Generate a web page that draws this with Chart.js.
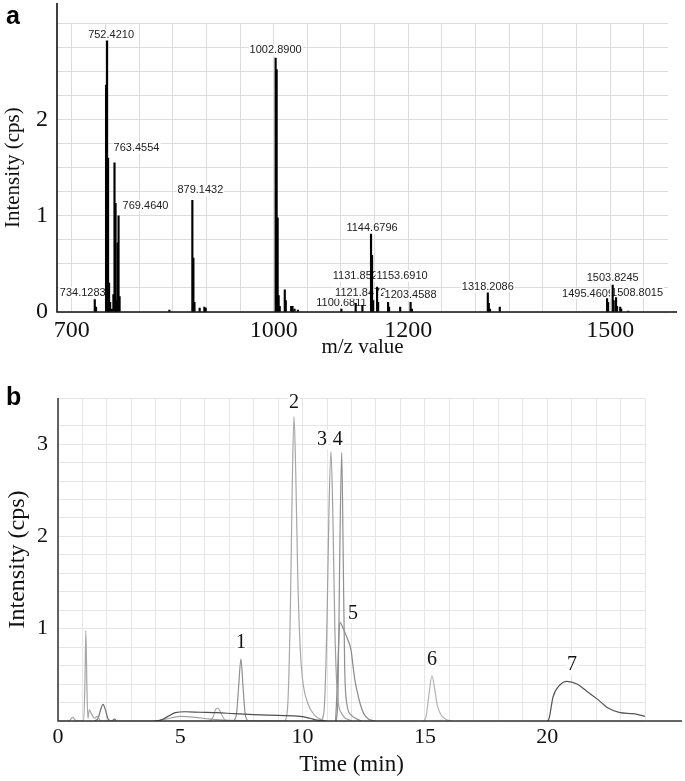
<!DOCTYPE html>
<html>
<head>
<meta charset="utf-8">
<script src="https://cdn.jsdelivr.net/npm/chart.js@4.4.0/dist/chart.umd.min.js"></script>
<style>
  body { margin: 0; background: #fff; }
  #wrap { position: relative; width: 685px; height: 781px; }
  #chartA { position: absolute; left: 0; top: 0; }
  #chartB { position: absolute; left: 0; top: 360px; }
</style>
</head>
<body>
<div id="wrap">
  <canvas id="chartA" width="685" height="360"></canvas>
  <canvas id="chartB" width="685" height="421"></canvas>
</div>
<script>
// ---- panel a: mass spectrum ----
const mzValues = [
  734.1283, 736.0, 750.9, 752.4210, 753.9, 755.4, 757.0, 759.5, 761.8, 763.4554,
  765.0, 766.5, 768.0, 769.4640, 771.0, 845.0, 879.1432, 880.7, 882.3, 890.0,
  897.0, 899.0, 1002.8900, 1004.4, 1005.9, 1007.4, 1009.0, 1016.5, 1018.0, 1026.0,
  1028.0, 1031.0, 1036.0, 1100.6811, 1121.8472, 1131.8522, 1144.6796, 1146.2, 1147.7, 1153.6910,
  1155.2, 1170.0, 1171.5, 1188.0, 1203.4588, 1205.5, 1318.2086, 1319.7, 1321.5, 1336.0,
  1495.4609, 1497.0, 1503.8245, 1505.3, 1508.8015, 1510.3, 1515.0, 1516.5, 1527.0
];
const mzIntensity = [
  0.13, 0.05, 2.36, 2.82, 1.60, 0.30, 0.10, 0.03, 0.18, 1.55,
  1.13, 0.12, 0.72, 1.00, 0.16, 0.02, 1.16, 0.56, 0.10, 0.04,
  0.05, 0.04, 2.64, 2.52, 0.98, 0.17, 0.06, 0.23, 0.12, 0.06,
  0.06, 0.03, 0.02, 0.03, 0.09, 0.07, 0.81, 0.59, 0.12, 0.26,
  0.10, 0.10, 0.05, 0.05, 0.10, 0.03, 0.20, 0.09, 0.03, 0.05,
  0.14, 0.10, 0.28, 0.12, 0.15, 0.06, 0.05, 0.03, 0.01
];
const mzLabels = [
  '734.1283', '752.4210', '763.4554', '769.4640', '879.1432', '1002.8900',
  '1100.6811', '1121.8472', '1131.8522', '1144.6796', '1153.6910', '1203.4588',
  '1318.2086', '1495.4609', '1503.8245', '1508.8015'
];
const mzTickLabels = [700, 1000, 1200, 1500];
const intensityTicksA = [0, 1, 2];

// label placement (px shift right, px above peak top)
const labelLayoutA = [
  [-12, 7], [4, 6], [22, 15], [27, 10], [8, 10], [0, 8],
  [0, 6], [5, 10], [-4, 29], [1, 6], [25, 11], [0, 7],
  [0, 6], [-19, 5], [0, 7], [21, 5]
];

// ---- panel b: chromatogram traces [time, intensity] ----
const traceSpike = [[0, 0], [0.45, 0], [0.6, 0.04], [0.75, 0], [1.05, 0], [1.1, 0.4], [1.14, 0.98], [1.18, 0.4],
  [1.22, 0.03], [1.28, 0.12], [1.36, 0.08], [1.5, 0.03], [1.6, 0.05], [1.75, 0], [4.0, 0]];
const traceSmall = [[1.5, 0], [1.64, 0.03], [1.74, 0.12], [1.84, 0.18], [1.94, 0.12], [2.05, 0.02], [2.2, 0], [2.3, 0.02], [2.4, 0]];
const traceBroad = [[3.9, 0], [4.2, 0.01], [4.5, 0.05], [4.8, 0.09], [5.2, 0.1], [5.8, 0.095], [6.5, 0.09], [7.2, 0.08],
  [8.0, 0.07], [9.0, 0.06], [9.9, 0.05], [10.3, 0.03], [10.6, 0.01], [11.0, 0]];
const traceBroadLow = [[4.0, 0], [4.4, 0.02], [5.0, 0.05], [5.6, 0.04], [6.2, 0.02], [6.8, 0.01], [9.4, 0]];
const traceBump = [[6.2, 0], [6.35, 0.05], [6.45, 0.13], [6.54, 0.14], [6.65, 0.09], [6.8, 0.02], [6.95, 0]];
const peak1 = [[7.2, 0], [7.3, 0.08], [7.38, 0.35], [7.48, 0.67], [7.57, 0.35], [7.65, 0.08], [7.75, 0]];
const peak2 = [[9.3, 0], [9.4, 0.2], [9.5, 1.2], [9.58, 2.6], [9.65, 3.30], [9.72, 2.7], [9.8, 1.6], [9.9, 0.8],
  [10.0, 0.45], [10.2, 0.2], [10.5, 0.06], [10.9, 0]];
const peak3 = [[10.8, 0], [10.9, 0.2], [11.0, 1.1], [11.08, 2.3], [11.16, 2.92], [11.24, 2.2], [11.32, 1.0],
  [11.42, 0.3], [11.6, 0.08], [12.0, 0]];
const peak4 = [[11.38, 0], [11.45, 0.3], [11.52, 1.8], [11.6, 2.91], [11.66, 1.8], [11.72, 0.6], [11.8, 0.2],
  [12.0, 0.06], [12.4, 0]];
const peak5 = [[11.35, 0], [11.42, 0.4], [11.48, 0.9], [11.53, 1.07], [11.63, 1.02], [11.73, 0.96], [11.85, 0.88],
  [11.98, 0.77], [12.06, 0.6], [12.14, 0.44], [12.25, 0.3], [12.35, 0.19], [12.5, 0.08], [12.7, 0.02], [13.0, 0]];
const peak6 = [[14.95, 0], [15.05, 0.05], [15.15, 0.25], [15.29, 0.49], [15.4, 0.35], [15.5, 0.18], [15.65, 0.07],
  [15.85, 0.02], [16.1, 0]];
const peak7 = [[20.0, 0], [20.07, 0.02], [20.24, 0.26], [20.52, 0.39], [20.81, 0.43], [21.22, 0.40], [21.63, 0.32],
  [22.04, 0.24], [22.49, 0.14], [22.98, 0.09], [23.5, 0.08], [24.0, 0.05]];
const peakNames = ['1', '2', '3', '4', '5', '6', '7'];
const timeTickLabels = [0, 5, 10, 15, 20];
const intensityTicksB = [1, 2, 3];

// label placement (px shift right, px above peak top)
const labelLayoutB = [[0, 16], [0, 14], [-9, 12], [-4, 13], [13, 9], [0, 16], [5, 17]];

const SERIF = "'Liberation Serif', 'Times New Roman', serif";
const SANS = "'Liberation Sans', Arial, sans-serif";
const near = (v, list) => list.some(l => Math.abs(v - l) < 1e-6);

// axis lines, extended past the grid like the original, plus the panel letter
const frame = {
  id: 'frame',
  afterDraw(chart, args, opts) {
    const { ctx, chartArea: a } = chart;
    ctx.save();
    ctx.strokeStyle = opts.color;
    ctx.lineWidth = opts.width;
    ctx.beginPath();
    ctx.moveTo(a.left, opts.yTop);
    ctx.lineTo(a.left, a.bottom);
    ctx.lineTo(opts.xEnd, a.bottom);
    ctx.stroke();
    ctx.fillStyle = '#000';
    ctx.font = 'bold 25px ' + SANS;
    ctx.textAlign = 'left';
    ctx.textBaseline = 'alphabetic';
    ctx.fillText(opts.letter, 6, opts.letterY);
    ctx.restore();
  }
};

// text tags above peaks (drawn under the marks, over the grid)
const tags = {
  id: 'tags',
  beforeDatasetsDraw(chart, args, opts) {
    const { ctx, scales: { x, y } } = chart;
    ctx.save();
    ctx.font = opts.font;
    ctx.textAlign = 'center';
    ctx.textBaseline = 'middle';
    opts.items.forEach(it => {
      const px = x.getPixelForValue(it.x) + it.dx;
      const py = y.getPixelForValue(it.y) - it.lift;
      const w = ctx.measureText(it.text).width;
      ctx.fillStyle = '#fff';
      ctx.fillRect(px - w / 2 - 1, py - opts.h / 2, w + 2, opts.h);
      ctx.fillStyle = opts.color;
      ctx.fillText(it.text, px, py);
    });
    ctx.restore();
  }
};

// ---- chart a ----
const tagItemsA = mzLabels.map((t, i) => {
  const v = parseFloat(t);
  return { text: t, x: v, y: mzIntensity[mzValues.indexOf(v)], dx: labelLayoutA[i][0], lift: labelLayoutA[i][1] };
});

new Chart(document.getElementById('chartA'), {
  type: 'bar',
  data: {
    datasets: [{
      data: mzValues.map((m, i) => ({ x: m, y: mzIntensity[i] })),
      backgroundColor: '#000',
      barThickness: 1.5,
      grouped: false
    }]
  },
  plugins: [frame, tags],
  options: {
    responsive: false,
    animation: false,
    layout: { padding: { top: 20, right: 17, left: 0, bottom: 0 } },
    plugins: {
      legend: { display: false },
      tooltip: { enabled: false },
      frame: { color: '#111', width: 1.6, yTop: 3, xEnd: 677, letter: 'a', letterY: 24 },
      tags: { items: tagItemsA, font: '11px ' + SANS, color: '#222', h: 11 }
    },
    scales: {
      x: {
        type: 'linear',
        min: 678,
        max: 1586,
        offset: false,
        afterFit: s => { s.height = 48; },
        grid: { color: '#dcdcdc', drawTicks: false, offset: false },
        border: { display: false },
        ticks: {
          stepSize: 50,
          includeBounds: false,
          autoSkip: false,
          maxRotation: 0,
          padding: 4,
          color: '#111',
          font: { family: SERIF, size: 24 },
          callback: v => near(v, mzTickLabels) ? String(v) : ''
        },
        title: { display: true, text: 'm/z value', color: '#111', font: { family: SERIF, size: 21 }, padding: 0 }
      },
      y: {
        min: 0,
        max: 3,
        afterFit: s => { s.width = 57; },
        grid: { color: '#dcdcdc', drawTicks: false },
        border: { display: false },
        ticks: {
          stepSize: 0.25,
          autoSkip: false,
          padding: 9,
          color: '#111',
          font: { family: SERIF, size: 24 },
          callback: v => near(v, intensityTicksA) ? String(Math.round(v)) : ''
        },
        title: { display: true, text: 'Intensity (cps)', color: '#111', font: { family: SERIF, size: 21 }, padding: { top: 1, bottom: 0 } }
      }
    }
  }
});

// ---- chart b ----
const traces = [
  { pts: traceSpike, color: '#a8a8a8' },
  { pts: traceSmall, color: '#707070' },
  { pts: traceBroad, color: '#505050' },
  { pts: traceBroadLow, color: '#a0a0a0' },
  { pts: traceBump, color: '#b0b0b0' },
  { pts: peak1, color: '#909090' },
  { pts: peak2, color: '#a8a8a8' },
  { pts: peak3, color: '#a0a0a0' },
  { pts: peak4, color: '#909090' },
  { pts: peak5, color: '#8a8a8a' },
  { pts: peak6, color: '#b4b4b4' },
  { pts: peak7, color: '#555555' }
];
const peakTraces = [peak1, peak2, peak3, peak4, peak5, peak6, peak7];

const tagItemsB = peakNames.map((n, i) => {
  const top = peakTraces[i].reduce((a, b) => (b[1] > a[1] ? b : a));
  return { text: n, x: top[0], y: top[1], dx: labelLayoutB[i][0], lift: labelLayoutB[i][1] };
});

new Chart(document.getElementById('chartB'), {
  type: 'line',
  data: {
    datasets: traces.map(t => ({
      data: t.pts.map(([x, y]) => ({ x, y })),
      borderColor: t.color,
      borderWidth: 1.2,
      pointRadius: 0,
      cubicInterpolationMode: 'monotone',
      fill: false
    }))
  },
  plugins: [frame, tags],
  options: {
    responsive: false,
    animation: false,
    layout: { padding: { top: 38, right: 40, left: 0, bottom: 0 } },
    plugins: {
      legend: { display: false },
      tooltip: { enabled: false },
      frame: { color: '#333', width: 1.5, yTop: 38, xEnd: 682, letter: 'b', letterY: 45 },
      tags: { items: tagItemsB, font: '20px ' + SERIF, color: '#111', h: 20 }
    },
    scales: {
      x: {
        type: 'linear',
        min: 0,
        max: 24,
        afterFit: s => { s.height = 60; },
        grid: { color: '#e6e6e6', drawTicks: false },
        border: { display: false },
        ticks: {
          stepSize: 1,
          autoSkip: false,
          maxRotation: 0,
          padding: 3,
          color: '#111',
          font: { family: SERIF, size: 22 },
          callback: v => near(v, timeTickLabels) ? String(v) : ''
        },
        title: { display: true, text: 'Time (min)', color: '#111', font: { family: SERIF, size: 23 }, padding: { top: 0, bottom: 2 } }
      },
      y: {
        min: 0,
        max: 3.5,
        afterFit: s => { s.width = 58; },
        grid: { color: '#e6e6e6', drawTicks: false },
        border: { display: false },
        ticks: {
          stepSize: 0.2,
          autoSkip: false,
          padding: 10,
          color: '#111',
          font: { family: SERIF, size: 22 },
          callback: v => near(v, intensityTicksB) ? String(Math.round(v)) : ''
        },
        title: { display: true, text: 'Intensity (cps)', color: '#111', font: { family: SERIF, size: 24 }, padding: { top: 3, bottom: 0 } }
      }
    }
  }
});
</script>
</body>
</html>
